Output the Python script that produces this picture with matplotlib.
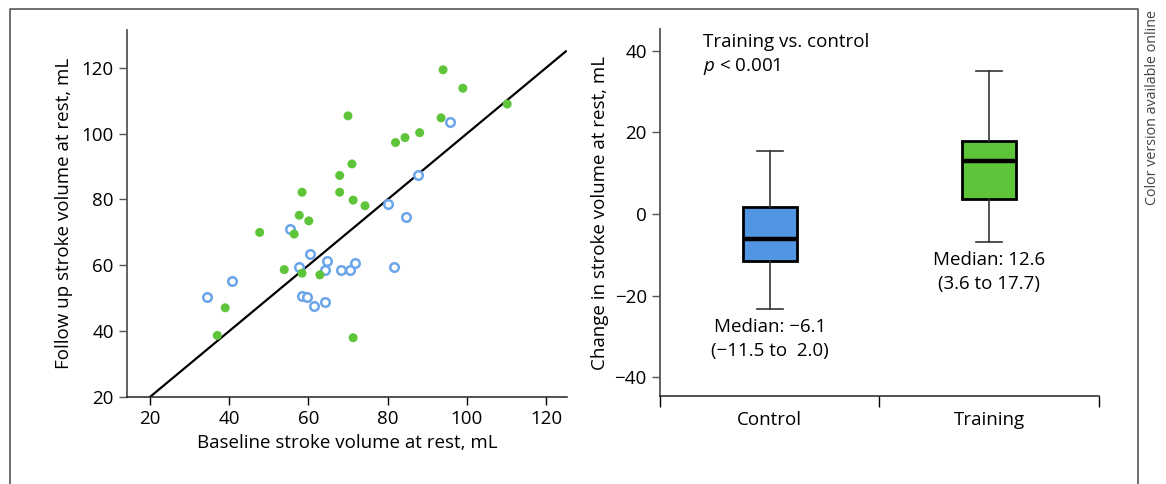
import numpy as np
import matplotlib.pyplot as plt
from matplotlib.lines import Line2D

plt.rcParams['font.family'] = ['Open Sans', 'DejaVu Sans']
plt.rcParams['font.size'] = 13.5
plt.rcParams['mathtext.fontset'] = 'custom'
plt.rcParams['mathtext.rm'] = 'Open Sans'
plt.rcParams['mathtext.it'] = 'Open Sans:italic'

# scatter data: baseline vs follow up stroke volume (mL)
training_base = [70.0, 71.0, 67.9, 58.4, 67.9, 71.3, 94.0, 99.0, 93.5, 110.2, 82.0, 84.4,
                 88.1, 74.3, 57.7, 60.1, 47.7, 56.4, 53.9, 58.4, 62.9, 39.0, 37.0, 71.3]
training_follow = [105.4, 90.8, 87.3, 82.2, 82.2, 79.8, 119.4, 113.8, 104.8, 109.0, 97.3, 98.8,
                   100.3, 78.1, 75.2, 73.5, 70.0, 69.5, 58.7, 57.6, 57.1, 47.1, 38.7, 38.0]
control_base = [95.7, 87.7, 80.0, 84.7, 55.4, 60.3, 64.7, 64.2, 57.7, 68.2, 70.6, 71.8,
                81.6, 40.6, 34.4, 58.4, 59.7, 61.3, 64.2]
control_follow = [103.4, 87.3, 78.5, 74.7, 70.9, 63.3, 61.4, 58.7, 59.5, 58.5, 58.5, 60.8,
                  59.5, 55.1, 50.3, 50.7, 50.3, 47.7, 49.0]
identity = [20, 125]

# box plot summary: change in stroke volume (mL)
groups = ['Control', 'Training']
medians = [-6.1, 13.0]
q1 = [-11.5, 3.7]
q3 = [1.8, 17.8]
whisk_lo = [-23.2, -6.9]
whisk_hi = [15.4, 35.0]
median_labels = ['Median: \u22126.1\n(\u221211.5 to  2.0)', 'Median: 12.6\n(3.6 to 17.7)']

green = '#5EC43A'
blue = '#6CA6EA'
box_blue = '#5295E3'
spine_c = '#555555'

fig = plt.figure(figsize=(11.66, 4.84), dpi=100)

# ---- left panel: scatter
ax1 = fig.add_axes([0.1089, 0.1798, 0.3774, 0.7583])
ax1.plot(identity, identity, color='black', lw=1.6, zorder=1)
ax1.scatter(training_base, training_follow, s=42, color=green, edgecolors='none', zorder=3)
ax1.scatter(control_base, control_follow, s=38, facecolors='white', edgecolors=blue,
            linewidths=1.8, zorder=2)
ax1.set_xlim(14.2, 125.3)
ax1.set_ylim(20, 131.5)
ax1.set_xticks([20, 40, 60, 80, 100, 120])
ax1.set_yticks([20, 40, 60, 80, 100, 120])
ax1.set_xlabel('Baseline stroke volume at rest, mL', labelpad=4)
ax1.set_ylabel('Follow up stroke volume at rest, mL', labelpad=6)

# ---- right panel: box plot
ax2 = fig.add_axes([0.5660, 0.1824, 0.3765, 0.757])
stats = []
for i in range(len(groups)):
    stats.append(dict(med=medians[i], q1=q1[i], q3=q3[i], whislo=whisk_lo[i],
                      whishi=whisk_hi[i], fliers=[], label=groups[i]))
bp = ax2.bxp(stats, positions=[1, 2], widths=0.245, capwidths=0.118, patch_artist=True,
             showfliers=False,
             boxprops=dict(edgecolor='black', linewidth=2.0),
             medianprops=dict(color='black', linewidth=3.2),
             whiskerprops=dict(color='#333333', linewidth=1.2),
             capprops=dict(color='#333333', linewidth=1.2))
for patch, c in zip(bp['boxes'], [box_blue, green]):
    patch.set_facecolor(c)
for i in range(len(groups)):
    ax2.text(i + 1, whisk_lo[i] - 2.2, median_labels[i], ha='center', va='top',
             linespacing=1.42)
ax2.text(0.695, 42.2, 'Training vs. control', ha='left', va='center')
ax2.text(0.695, 36.2, r'$p$ < 0.001', ha='left', va='center')
ax2.set_xlim(0.5, 2.5)
ax2.set_ylim(-44.5, 45.2)
ax2.set_yticks([-40, -20, 0, 20, 40])
ax2.set_yticklabels(['\u221240', '\u221220', '0', '20', '40'])
ax2.set_xticks([0.5, 1.5, 2.5])
ax2.set_xticklabels([])
ax2.tick_params(axis='x', length=8)
ax2.set_xticks([1, 2], minor=True)
ax2.set_xticklabels(groups, minor=True)
ax2.tick_params(axis='x', which='minor', length=0, pad=11)
ax2.set_ylabel('Change in stroke volume at rest, mL', labelpad=4)

for ax in (ax1, ax2):
    ax.spines['top'].set_visible(False)
    ax.spines['right'].set_visible(False)
    ax.spines['left'].set_color(spine_c)
    ax.spines['left'].set_linewidth(1.3)
    ax.spines['bottom'].set_color('#222222')
    ax.spines['bottom'].set_linewidth(1.1)
    ax.tick_params(axis='y', length=6, width=1.0, color=spine_c, labelsize=13.5)
    ax.tick_params(axis='x', width=1.0, labelsize=13.5)
ax1.tick_params(axis='x', length=6)

# outer frame
x0, x1, ytop = 10 / 1166, 1138 / 1166, 1 - 9 / 484
fig.add_artist(Line2D([x0, x0, x1, x1], [0, ytop, ytop, 0], color='#555555', lw=1.2))
fig.text(1152 / 1166, 1 - 10 / 484, 'Color version available online', rotation=90,
         ha='center', va='top', fontsize=10.3, color='#444444')

fig.savefig('out.png', dpi=100)
